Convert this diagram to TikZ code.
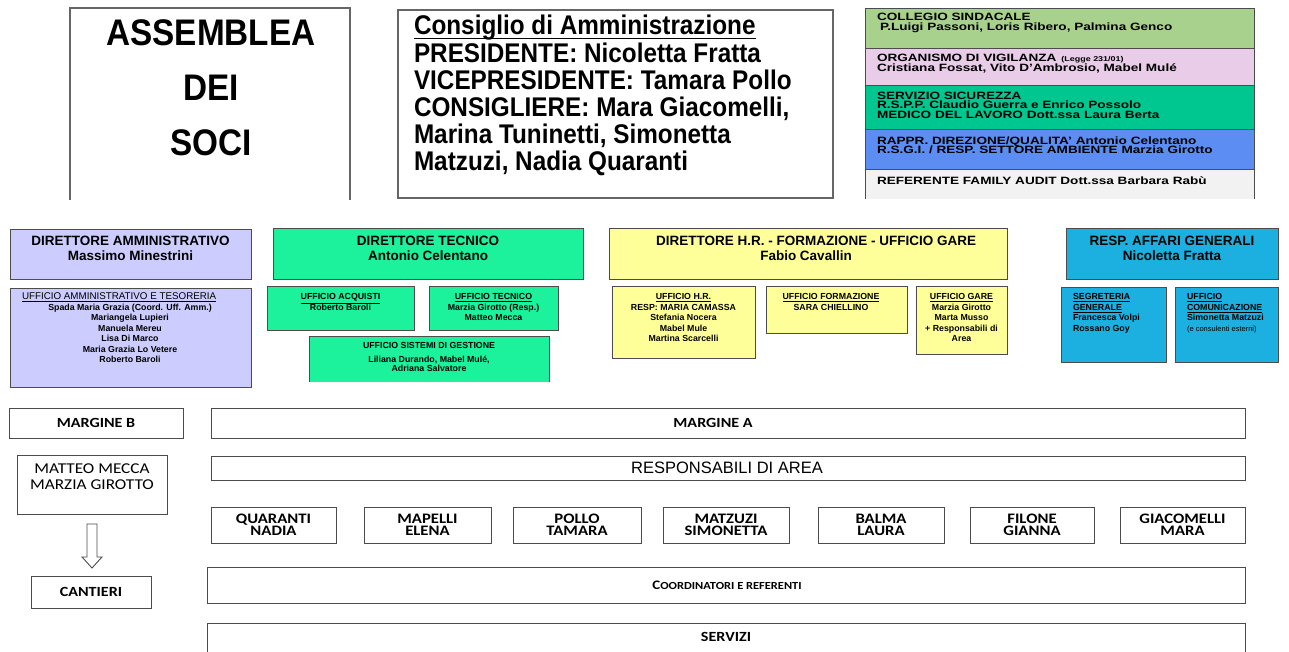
\documentclass[tikz,border=0pt]{standalone}
\usepackage{fontspec}
\setmainfont{Liberation Sans}
\newfontfamily\narrowfont[FakeStretch=0.9]{Liberation Sans}
\newfontfamily\widefont[FakeStretch=1.28]{Liberation Sans}
\newfontfamily\calfont[FakeStretch=1.15]{Carlito}
\definecolor{cCol}{HTML}{A9D18E}
\definecolor{cOrg}{HTML}{E8CCE8}
\definecolor{cSic}{HTML}{00C790}
\definecolor{cRap}{HTML}{5B8DF2}
\definecolor{cRef}{HTML}{F2F2F2}
\definecolor{cAmm}{HTML}{CCCCFF}
\definecolor{cTec}{HTML}{1CF29C}
\definecolor{cHR}{HTML}{FFFF99}
\definecolor{cAff}{HTML}{1CB0E0}
\newcommand\fsz[2]{\fontsize{#1}{#2}\selectfont}
\newcommand\mybox[6]{\node[#6, anchor=north west, inner sep=0pt, outer sep=0pt, minimum width={(#4)-(#2)}, minimum height={(#5)-(#3)}] (#1) at (#2,#3) {};}
\tikzset{
  boxline/.style={draw=black!70, line width=0.9pt},
  bigline/.style={draw=black!60, line width=1.3pt},
  txt/.style={inner sep=0pt, outer sep=0pt},
  trt/.style={txt, anchor=base west, font=\widefont\bfseries\fsz{10.6}{10}},
  dirt/.style={txt, anchor=base, font=\bfseries\fsz{13.5}{13}},
  subt/.style={txt, anchor=north, align=center, font=\bfseries\fsz{8.8}{10.5}},
  subl/.style={txt, anchor=north west, align=left, font=\bfseries\fsz{8.8}{10.5}},
  calt/.style={txt, font=\calfont\bfseries\fsz{14}{12}},
  namet/.style={txt, anchor=north, align=center, font=\calfont\bfseries\fsz{14.5}{12}},
}
\begin{document}
\begin{tikzpicture}[x=1pt,y=-1pt]
\useasboundingbox (0,0) rectangle (1289,652);
\fill[white] (0,0) rectangle (1289,652);

% ---- Assemblea
\mybox{asm}{70}{8}{350}{200}{}
\draw[bigline] (asm.south west) -- (asm.north west) -- (asm.north east) -- (asm.south east);
\node[txt, font=\narrowfont\bfseries\fsz{37}{37}] (asmA) at (211,33) {ASSEMBLEA};
\node[txt, font=\narrowfont\bfseries\fsz{37}{37}] (asmB) at (211,88) {DEI};
\node[txt, font=\narrowfont\bfseries\fsz{37}{37}] (asmC) at (211,143) {SOCI};

% ---- Consiglio
\mybox{cda}{398}{10}{833}{198}{bigline}
\node[txt, anchor=base west, font=\narrowfont\bfseries\fsz{27}{27}] (cdaT) at (414,35) {Consiglio di Amministrazione};
\draw[line width=1.3pt] ([yshift=-3.5pt]cdaT.base west) -- ([yshift=-3.5pt]cdaT.base east);
\node[txt, anchor=north west, align=left, font=\narrowfont\bfseries\fsz{27}{27}] (cdaB) at (414,42.9) {PRESIDENTE: Nicoletta Fratta\\VICEPRESIDENTE: Tamara Pollo\\CONSIGLIERE: Mara Giacomelli,\\Marina Tuninetti, Simonetta\\Matzuzi, Nadia Quaranti};

% ---- Top right stack
\mybox{col}{865}{8}{1254}{48}{boxline, fill=cCol}
\mybox{org}{865}{48}{1254}{85}{boxline, fill=cOrg}
\mybox{sic}{865}{85}{1254}{129}{boxline, fill=cSic}
\mybox{rap}{865}{129}{1254}{169}{boxline, fill=cRap}
\mybox{ref}{865}{169}{1254}{199}{fill=cRef}
\draw[boxline] (ref.south west) -- (ref.north west) -- (ref.north east) -- (ref.south east);
\node[trt] (colA) at (877,21) {COLLEGIO SINDACALE};
\node[trt] (colB) at (880,30.5) {P.Luigi Passoni, Loris Ribero, Palmina Genco};
\node[trt] (orgA) at (877,62) {ORGANISMO DI VIGILANZA\hspace{5pt}{\fsz{7}{7}(Legge 231/01)}};
\node[trt] (orgB) at (877,72) {Cristiana Fossat, Vito D’Ambrosio, Mabel Mulé};
\node[trt] (sicA) at (877,100) {SERVIZIO SICUREZZA};
\node[trt] (sicB) at (877,109) {R.S.P.P. Claudio Guerra e Enrico Possolo};
\node[trt] (sicC) at (877,118.5) {MEDICO DEL LAVORO Dott.ssa Laura Berta};
\node[trt] (rapA) at (877,145) {RAPPR. DIREZIONE/QUALITA’ Antonio Celentano};
\node[trt] (rapB) at (877,154) {R.S.G.I. / RESP. SETTORE AMBIENTE Marzia Girotto};
\node[trt] (refA) at (877,185) {REFERENTE FAMILY AUDIT Dott.ssa Barbara Rabù};

% ---- Directors
\mybox{damm}{10}{229}{251}{279}{boxline, fill=cAmm}
\node[dirt] (dammA) at (130.5,246) {DIRETTORE AMMINISTRATIVO};
\node[dirt] (dammB) at (130.5,261) {Massimo Minestrini};
\mybox{dtec}{273}{228}{583}{279}{boxline, fill=cTec}
\node[dirt] (dtecA) at (428,246) {DIRETTORE TECNICO};
\node[dirt] (dtecB) at (428,261) {Antonio Celentano};
\mybox{dhr}{609}{228}{1007}{279}{boxline, fill=cHR}
\node[dirt] (dhrA) at (816,246) {DIRETTORE H.R. - FORMAZIONE - UFFICIO GARE};
\node[dirt] (dhrB) at (806,261) {Fabio Cavallin};
\mybox{daff}{1066}{228}{1278}{279}{boxline, fill=cAff}
\node[dirt] (daffA) at (1172,246) {RESP. AFFARI GENERALI};
\node[dirt] (daffB) at (1172,261) {Nicoletta Fratta};

% ---- Offices
\mybox{uamm}{10}{288}{251}{387}{boxline, fill=cAmm}
\node[txt, anchor=base west, font=\fsz{9.8}{10}] (uammT) at (22,299.5) {\underline{UFFICIO AMMINISTRATIVO E TESORERIA}};
\node[subt] (uammN) at (130,304) {Spada Maria Grazia (Coord. Uff. Amm.)\\Mariangela Lupieri\\Manuela Mereu\\Lisa Di Marco\\Maria Grazia Lo Vetere\\Roberto Baroli};

\mybox{uacq}{267}{286}{414}{330}{boxline, fill=cTec}
\node[subt] (uacqT) at (340.5,293.7) {\underline{UFFICIO ACQUISTI}\\Roberto Baroli};
\mybox{utec}{429}{286}{558}{330}{boxline, fill=cTec}
\node[subt] (utecT) at (493.5,293.7) {\underline{UFFICIO TECNICO}\\Marzia Girotto (Resp.)\\Matteo Mecca};
\mybox{usis}{309}{336}{549}{382}{fill=cTec}
\draw[boxline] (usis.south west) -- (usis.north west) -- (usis.north east) -- (usis.south east);
\node[subt] (usisT) at (429,342.2) {UFFICIO SISTEMI DI GESTIONE};
\node[subt, font=\bfseries\fsz{8.8}{9.5}] (usisN) at (429,355.7) {Liliana Durando, Mabel Mulé,\\Adriana Salvatore};

\mybox{uhr}{612}{286}{755}{358}{boxline, fill=cHR}
\node[subt] (uhrT) at (683.5,293.7) {\underline{UFFICIO H.R.}\\RESP: MARIA CAMASSA\\Stefania Nocera\\Mabel Mule\\Martina Scarcelli};
\mybox{ufor}{766}{286}{907}{333}{boxline, fill=cHR}
\node[subt] (uforT) at (831,293.7) {\underline{UFFICIO FORMAZIONE}\\SARA CHIELLINO};
\mybox{ugar}{916}{286}{1007}{354}{boxline, fill=cHR}
\node[subt] (ugarT) at (961.5,293.7) {\underline{UFFICIO GARE}\\Marzia Girotto\\Marta Musso\\+ Responsabili di\\Area};

\mybox{useg}{1061}{287}{1166}{362}{boxline, fill=cAff}
\node[subl] (usegT) at (1073,293.7) {\underline{SEGRETERIA}\\\underline{GENERALE}\\Francesca Volpi\\Rossano Goy};
\mybox{ucom}{1175}{287}{1278}{362}{boxline, fill=cAff}
\node[subl] (ucomT) at (1187,293.7) {\underline{UFFICIO}\\\underline{COMUNICAZIONE}\\Simonetta Matzuzi\\{\mdseries\fsz{7.5}{10.5}(e consulenti esterni)}};

% ---- Bottom section
\mybox{mb}{9}{408}{183}{438}{boxline}
\node[calt] (mbT) at (96,423) {MARGINE B};
\mybox{ma}{211}{408}{1245}{438}{boxline}
\node[calt] (maT) at (713,423) {MARGINE A};
\mybox{mm}{17}{455}{167}{514}{boxline}
\node[txt, anchor=north, align=center, font=\calfont\fsz{15}{16}] (mmT) at (92,463.3) {MATTEO MECCA\\MARZIA GIROTTO};
\mybox{resp}{211}{456}{1245}{480}{boxline}
\node[txt, font=\fsz{16.5}{16}] (respT) at (727,467.5) {RESPONSABILI DI AREA};

\mybox{n1}{211}{507}{336}{543}{boxline}
\node[namet] (n1T) at (273.5,513.7) {QUARANTI\\NADIA};
\mybox{n2}{364}{507}{491}{543}{boxline}
\node[namet] (n2T) at (427.5,513.7) {MAPELLI\\ELENA};
\mybox{n3}{513}{507}{641}{543}{boxline}
\node[namet] (n3T) at (577,513.7) {POLLO\\TAMARA};
\mybox{n4}{663}{507}{789}{543}{boxline}
\node[namet] (n4T) at (726,513.7) {MATZUZI\\SIMONETTA};
\mybox{n5}{818}{507}{944}{543}{boxline}
\node[namet] (n5T) at (881,513.7) {BALMA\\LAURA};
\mybox{n6}{970}{507}{1094}{543}{boxline}
\node[namet] (n6T) at (1032,513.7) {FILONE\\GIANNA};
\mybox{n7}{1120}{507}{1245}{543}{boxline}
\node[namet] (n7T) at (1182.5,513.7) {GIACOMELLI\\MARA};

\draw[boxline, fill=white] (87,524) -- (97,524) -- (97,557) -- (102,557) -- (92,568) -- (82,557) -- (87,557) -- cycle;
\mybox{can}{31}{576}{151}{608}{boxline}
\node[calt] (canT) at (91,592) {CANTIERI};

\mybox{coord}{207}{567}{1245}{603}{boxline}
\node[txt, font=\calfont\bfseries] (coordT) at (727,585) {{\fsz{13}{12}C}{\fsz{10.8}{12}OORDINATORI E REFERENTI}};
\mybox{serv}{207}{623}{1245}{670}{boxline}
\node[calt] (servT) at (726,637) {SERVIZI};
\end{tikzpicture}
\end{document}
